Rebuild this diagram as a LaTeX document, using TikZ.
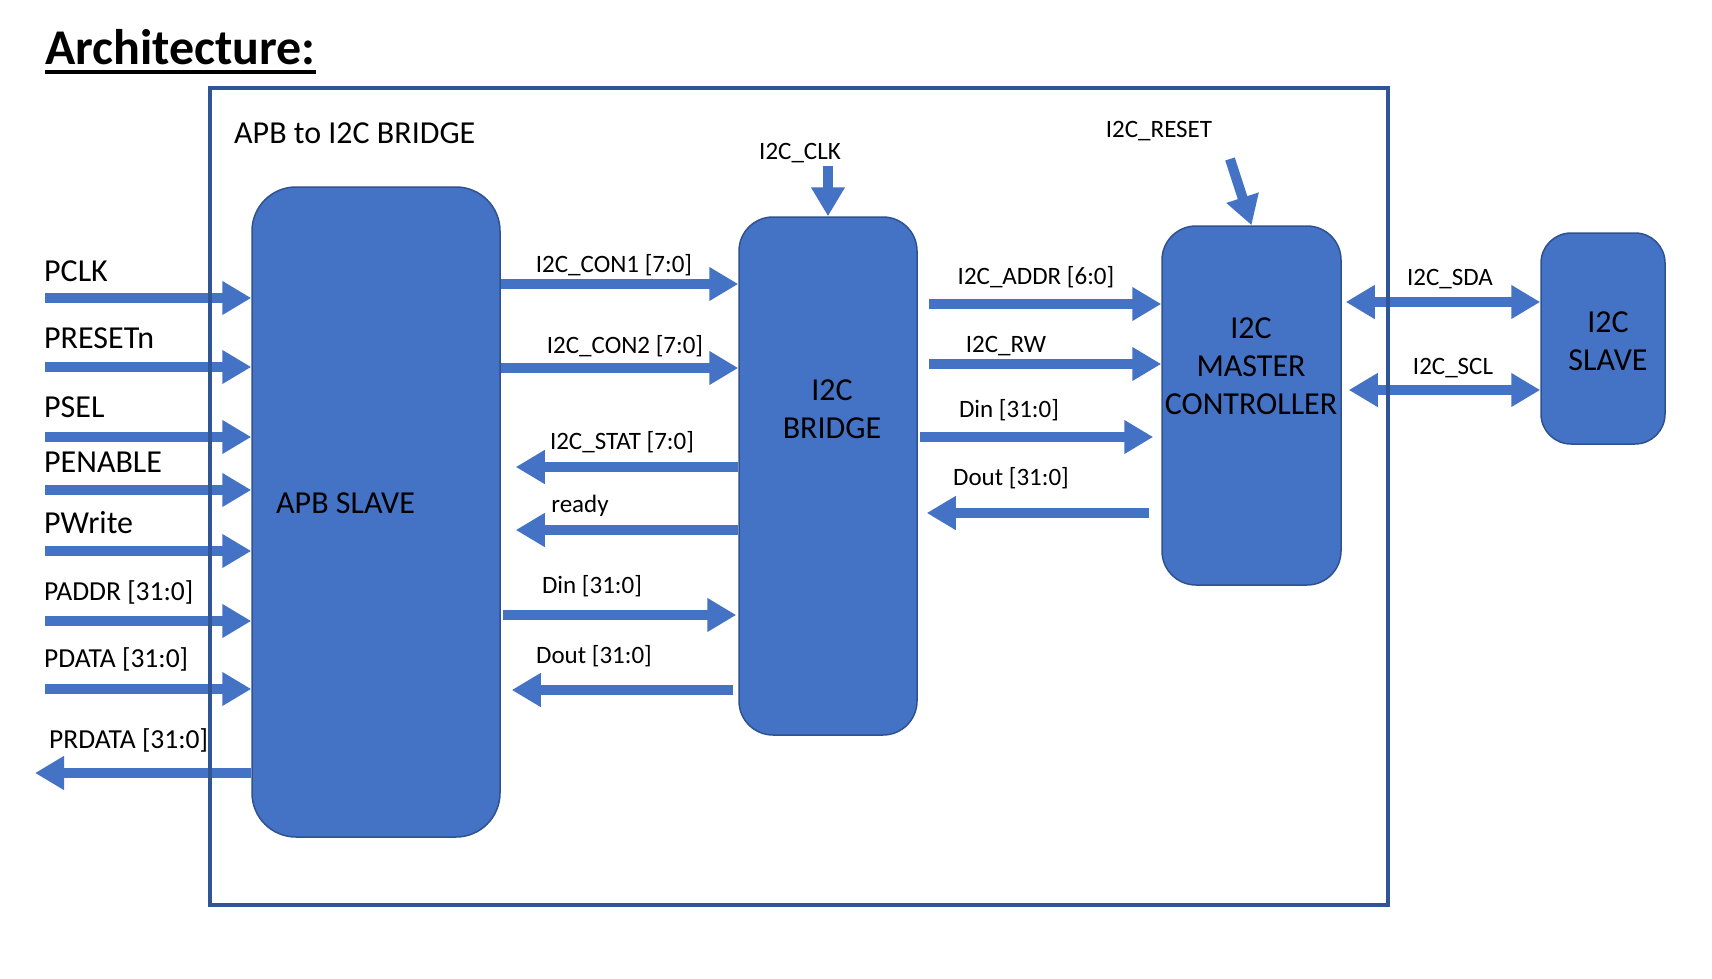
\documentclass[tikz,border=0pt]{standalone}
\usepackage{fontspec}
\setmainfont{Carlito}
\usetikzlibrary{arrows.meta,calc}
\definecolor{ablue}{HTML}{4472C4}
\definecolor{bborder}{HTML}{2F528F}
\definecolor{frameblue}{HTML}{2F5597}
\begin{document}
\begin{tikzpicture}[x=1pt,y=-1pt,
  blk/.style={draw=bborder, line width=1.5pt, fill=ablue, inner sep=0pt},
  sig/.style={draw=ablue, line width=10pt, -{Triangle[length=29pt,width=32pt]}},
  dsig/.style={draw=ablue, line width=10pt, {Triangle[length=29pt,width=32pt]}-{Triangle[length=29pt,width=32pt]}},
  big/.style={font=\fontsize{32}{38}\selectfont, inner sep=0pt},
  mid/.style={font=\fontsize{27.5}{33}\selectfont, inner sep=0pt},
  small/.style={font=\fontsize{25}{30}\selectfont, inner sep=0pt},
]
\useasboundingbox (0,0) rectangle (1712,979);

% title
\node[anchor=base west, inner sep=0pt, font=\bfseries\fontsize{50}{56}\selectfont] (title) at (45,65) {Architecture:};
\draw[line width=3.5pt] ($(title.base west)+(0,7)$) -- ($(title.base east)+(0,7)$);

% blocks
\node[blk, rounded corners=44pt, minimum width=248pt, minimum height=650pt] (apb) at (376,512) {};
\node[blk, rounded corners=34pt, minimum width=178pt, minimum height=518pt] (bridge) at (828,476) {};
\node[blk, rounded corners=34pt, minimum width=179pt, minimum height=359pt] (master) at (1251.5,405.5) {};
\node[blk, rounded corners=30pt, minimum width=124pt, minimum height=211pt] (slave) at (1603,338.5) {};

% block texts
\node[big, anchor=base west] (apbtxt) at (276,513) {APB SLAVE};
\node[big, align=center] (bridgetxt) at (832,409) {I2C\\BRIDGE};
\node[big, align=center] (mastertxt) at (1251,366.5) {I2C\\MASTER\\CONTROLLER};
\node[big, align=center] (slavetxt) at (1608,341) {I2C\\SLAVE};

% left inputs
\coordinate (pclkS) at (45,298);
\coordinate (presetS) at (45,367);
\coordinate (pselS) at (45,437);
\coordinate (penS) at (45,490);
\coordinate (pwS) at (45,551);
\coordinate (paddrS) at (45,621);
\coordinate (pdataS) at (45,689);
\coordinate (prdataE) at (35,773);
\draw[sig] (pclkS) -- (pclkS -| apb.west);
\draw[sig] (presetS) -- (presetS -| apb.west);
\draw[sig] (pselS) -- (pselS -| apb.west);
\draw[sig] (penS) -- (penS -| apb.west);
\draw[sig] (pwS) -- (pwS -| apb.west);
\draw[sig] (paddrS) -- (paddrS -| apb.west);
\draw[sig] (pdataS) -- (pdataS -| apb.west);
\draw[sig] (prdataE -| apb.west) -- (prdataE);

\node[big, anchor=base west] (lpclk) at (44,281) {PCLK};
\node[big, anchor=base west] (lpreset) at (44,348) {PRESETn};
\node[big, anchor=base west] (lpsel) at (44,417) {PSEL};
\node[big, anchor=base west] (lpen) at (44,472) {PENABLE};
\node[big, anchor=base west] (lpw) at (44,533) {PWrite};
\node[mid, anchor=base west] (lpaddr) at (44,600) {PADDR [31:0]};
\node[mid, anchor=base west] (lpdata) at (44,667) {PDATA [31:0]};
\node[mid, anchor=base west] (lprdata) at (49,748) {PRDATA [31:0]};

% APB <-> bridge
\coordinate (yc1) at (0,284);
\coordinate (yc2) at (0,368);
\coordinate (yst) at (0,467);
\coordinate (yrd) at (0,530);
\coordinate (ydi) at (0,615);
\coordinate (ydo) at (0,690);
\draw[sig] (apb.east |- yc1) -- (bridge.west |- yc1);
\draw[sig] (apb.east |- yc2) -- (bridge.west |- yc2);
\draw[sig] (bridge.west |- yst) -- ($(apb.east |- yst)+(15,0)$);
\draw[sig] (bridge.west |- yrd) -- ($(apb.east |- yrd)+(15,0)$);
\draw[sig] ($(apb.east |- ydi)+(2,0)$) -- ($(bridge.west |- ydi)+(-2,0)$);
\draw[sig] ($(bridge.west |- ydo)+(-5,0)$) -- ($(apb.east |- ydo)+(11,0)$);

\node[small, anchor=base] (lcon1) at (614,272) {I2C\_CON1 [7:0]};
\node[small, anchor=base] (lcon2) at (625,353) {I2C\_CON2 [7:0]};
\node[small, anchor=base] (lstat) at (622,449) {I2C\_STAT [7:0]};
\node[small, anchor=base] (lready) at (580,512) {ready};
\node[small, anchor=base] (ldin) at (592,593) {Din [31:0]};
\node[small, anchor=base] (ldout) at (594,663) {Dout [31:0]};

% bridge <-> master
\coordinate (yad) at (0,304);
\coordinate (yrw) at (0,364);
\coordinate (ydi2) at (0,437);
\coordinate (ydo2) at (0,513);
\draw[sig] ($(bridge.east |- yad)+(11,0)$) -- (master.west |- yad);
\draw[sig] ($(bridge.east |- yrw)+(11,0)$) -- (master.west |- yrw);
\draw[sig] ($(bridge.east |- ydi2)+(2,0)$) -- ($(master.west |- ydi2)+(-8,0)$);
\draw[sig] ($(master.west |- ydo2)+(-12,0)$) -- ($(bridge.east |- ydo2)+(9,0)$);

\node[small, anchor=base] (laddr) at (1036,284) {I2C\_ADDR [6:0]};
\node[small, anchor=base] (lrw) at (1006,352) {I2C\_RW};
\node[small, anchor=base] (ldin2) at (1009,417) {Din [31:0]};
\node[small, anchor=base] (ldout2) at (1011,485) {Dout [31:0]};

% clock / reset
\coordinate (clkS) at (828,166);
\draw[sig] (clkS) -- (clkS |- bridge.north);
\node[small, anchor=base] (lclk) at (800,159) {I2C\_CLK};
\coordinate (rstS) at (1230,159);
\draw[sig] (rstS) -- (master.north);
\node[small, anchor=base] (lrst) at (1159,137) {I2C\_RESET};

% master <-> slave
\coordinate (ysda) at (0,302);
\coordinate (yscl) at (0,390);
\draw[dsig] ($(master.east |- ysda)+(4,0)$) -- (slave.west |- ysda);
\draw[dsig] ($(master.east |- yscl)+(7,0)$) -- (slave.west |- yscl);
\node[small, anchor=base] (lsda) at (1450,285) {I2C\_SDA};
\node[small, anchor=base] (lscl) at (1453,374) {I2C\_SCL};

% outer frame
\node[draw=frameblue, line width=4.5pt, inner sep=0pt, minimum width=1178pt, minimum height=817pt] (outer) at (799,496.5) {};
\node[big, anchor=base west] (hdr) at (234,143) {APB to I2C BRIDGE};
\end{tikzpicture}
\end{document}
